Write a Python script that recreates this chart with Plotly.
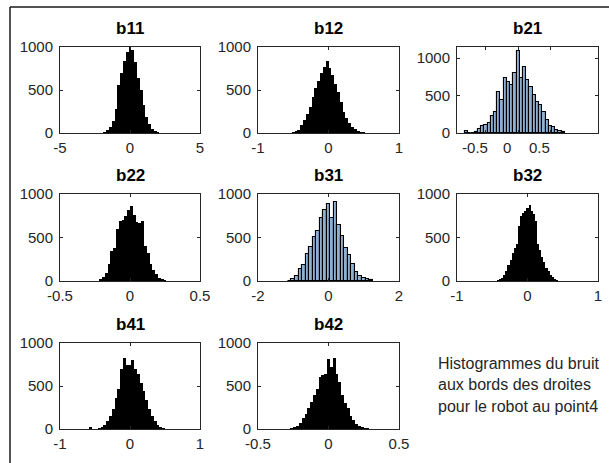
import plotly.graph_objects as go

W, H = 609, 463

# histogram data: centre of first bin, bin width, counts per bin
b11_start, b11_width = -1.8, 0.2
b11_counts = [10, 30, 70, 140, 280, 560, 700, 840, 940, 1000,
              960, 830, 640, 500, 330, 190, 100, 50, 25, 8]

b12_start, b12_width = -0.50, 0.04
b12_counts = [5, 12, 40, 95, 150, 220, 300, 420, 520, 610, 700, 770, 840,
              760, 670, 570, 480, 360, 250, 170, 120, 70, 45, 22, 10, 4]

b21_start, b21_width = -0.80, 0.05
b21_counts = [25, 0, 5, 15, 50, 90, 110, 130, 225, 285, 550, 440, 730, 685, 640, 800,
              1100, 730, 885, 705, 620, 505, 420, 375, 285, 175, 95, 75, 45, 30, 20]

b22_start, b22_width = -0.21, 0.02
b22_counts = [20, 50, 90, 200, 340, 380, 600, 690, 700, 750, 820, 860,
              760, 680, 670, 690, 400, 320, 200, 130, 80, 40, 18, 5]

b31_start, b31_width = -1.1, 0.1
b31_counts = [5, 20, 60, 140, 180, 310, 390, 510, 580, 725, 815, 880,
              720, 905, 640, 520, 380, 300, 195, 106, 60, 35, 18, 6]

b32_start, b32_width = -0.42, 0.03
b32_counts = [5, 15, 35, 65, 120, 180, 240, 320, 380, 420, 630, 750, 780, 810, 840,
              870, 810, 770, 690, 430, 360, 280, 220, 150, 110, 70, 45, 20, 8]

b41_start, b41_width = -0.56, 0.04
b41_counts = [20, 0, 0, 5, 15, 45, 95, 155, 230, 360, 465, 700, 820, 750,
              740, 805, 700, 640, 540, 440, 335, 235, 150, 90, 50, 25, 10]

b42_start, b42_width = -0.26, 0.02
b42_counts = [5, 15, 40, 75, 130, 180, 240, 310, 390, 470, 600, 625, 640, 815,
              725, 825, 640, 545, 400, 300, 240, 155, 100, 60, 35, 20, 8, 3]

panels = [
    # name, start, width, counts, x range, x ticks, x tick text, y max, filled
    ("b11", b11_start, b11_width, b11_counts, [-5, 5], [-5, 0, 5], ["-5", "0", "5"], 1000, False),
    ("b12", b12_start, b12_width, b12_counts, [-1, 1], [-1, 0, 1], ["-1", "0", "1"], 1000, False),
    ("b21", b21_start, b21_width, b21_counts, [-0.95, 1.24], [-0.5, 0, 0.5], ["-0.5", "0", "0.5"], 1150, True),
    ("b22", b22_start, b22_width, b22_counts, [-0.5, 0.5], [-0.5, 0, 0.5], ["-0.5", "0", "0.5"], 1000, False),
    ("b31", b31_start, b31_width, b31_counts, [-2, 2], [-2, 0, 2], ["-2", "0", "2"], 1000, True),
    ("b32", b32_start, b32_width, b32_counts, [-1, 1], [-1, 0, 1], ["-1", "0", "1"], 1000, False),
    ("b41", b41_start, b41_width, b41_counts, [-1, 1], [-1, 0, 1], ["-1", "0", "1"], 1000, False),
    ("b42", b42_start, b42_width, b42_counts, [-0.5, 0.5], [-0.5, 0, 0.5], ["-0.5", "0", "0.5"], 1000, False),
]

note_lines = ["Histogrammes du bruit", "aux bords des droites", "pour le robot au point4"]

# pixel boxes of the axes (left, right) per column and (top, bottom) per row
cols = [(60, 200), (258, 399), (457, 598)]
rows = [(47, 133), (194, 281), (343, 429)]

INK = "#262626"
FONT = "Liberation Sans, Arial, sans-serif"

fig = go.Figure()
layout = {}
annotations = []

for i, (name, start, width, counts, xr, xt, xtt, ymax, filled) in enumerate(panels):
    r, c = divmod(i, 3)
    n = i + 1
    xa = "x" if n == 1 else f"x{n}"
    ya = "y" if n == 1 else f"y{n}"
    centres = [start + width * k for k in range(len(counts))]
    if filled:
        marker = dict(color="#8eb0d2", line=dict(color="#000000", width=1.1))
    else:
        marker = dict(color="#000000", line=dict(width=0))
    fig.add_trace(go.Bar(x=centres, y=counts, width=width, marker=marker,
                         xaxis=xa, yaxis=ya, showlegend=False))

    x0, x1 = cols[c]
    top, bot = rows[r]
    common = dict(showline=True, linecolor=INK, linewidth=1, mirror="ticks",
                  ticks="inside", ticklen=3, tickcolor=INK, showgrid=False,
                  zeroline=False, automargin=False,
                  tickfont=dict(family=FONT, size=15, color=INK))
    xkey = "xaxis" if n == 1 else f"xaxis{n}"
    ykey = "yaxis" if n == 1 else f"yaxis{n}"
    layout[xkey] = dict(common, domain=[x0 / W, x1 / W], range=xr, tickvals=xt,
                        ticktext=xtt, anchor=ya, ticklabelstandoff=1)
    if name == "b21":
        layout[xkey]["ticklabelshift"] = -11
    layout[ykey] = dict(common, domain=[1 - bot / H, 1 - top / H], range=[0, ymax],
                        tickvals=[0, 500, 1000], ticktext=["0", "500", "1000"],
                        anchor=xa, ticklabelstandoff=3)
    annotations.append(dict(text=name, x=(x0 + x1) / 2 / W, y=1 - (top - 7) / H,
                            xref="paper", yref="paper", xanchor="center", yanchor="bottom",
                            showarrow=False,
                            font=dict(family=FONT, size=17, color="#000000", weight="bold")))

for j, line in enumerate(note_lines):
    annotations.append(dict(text=line, x=436 / W, y=1 - (363 + 21.5 * j) / H,
                            xref="paper", yref="paper", xanchor="left", yanchor="middle",
                            showarrow=False, font=dict(family=FONT, size=16, color=INK)))

fig.update_layout(
    width=W, height=H,
    margin=dict(l=0, r=0, t=0, b=0, pad=0, autoexpand=False),
    paper_bgcolor="white", plot_bgcolor="white",
    bargap=0,
    annotations=annotations,
    shapes=[
        dict(type="line", xref="paper", yref="paper", x0=10 / W, x1=1.0,
             y0=1 - 7 / H, y1=1 - 7 / H, line=dict(color="#1a1a1a", width=1.5)),
        dict(type="line", xref="paper", yref="paper", x0=10 / W, x1=10 / W,
             y0=0, y1=1 - 7 / H, line=dict(color="#1a1a1a", width=1.5)),
    ],
    **layout,
)

# drop the page's default body margin so the figure sits at the window's corner
fig.write_html("out.html", config={"displayModeBar": False},
               post_script="document.body.style.margin='0';document.body.style.overflow='hidden';")
